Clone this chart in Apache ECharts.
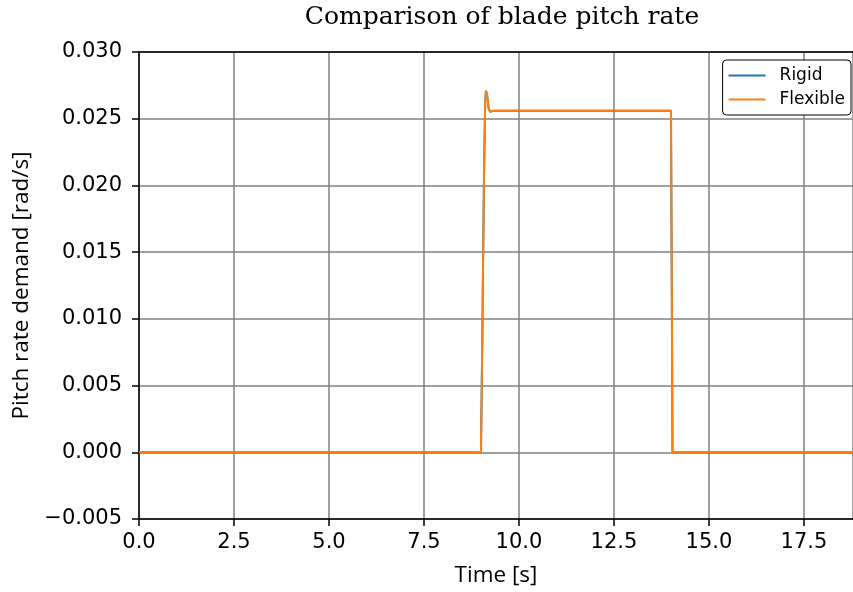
<!DOCTYPE html>
<html><head><meta charset="utf-8">
<script src="https://cdn.jsdelivr.net/npm/echarts@6/dist/echarts.min.js"></script>
<style>html,body{margin:0;padding:0;background:#fff}#c{width:853px;height:592px}</style>
</head><body><div id="c"></div>
<script>
const timeRigid = [0, 9.0, 9.04, 9.08, 9.11, 9.13, 9.16, 9.2, 9.24, 9.3, 9.4, 14.0, 14.02, 14.04, 18.79];
const rateRigid = [0, 0, 0.010, 0.021, 0.0262, 0.0271, 0.0268, 0.0258, 0.02552, 0.02558, 0.0256, 0.0256, 0.013, 0, 0];
const timeFlexible = [0, 9.0, 9.04, 9.08, 9.11, 9.13, 9.16, 9.2, 9.24, 9.3, 9.4, 14.0, 14.02, 14.04, 18.79];
const rateFlexible = [0, 0, 0.010, 0.021, 0.0262, 0.0271, 0.0268, 0.0258, 0.02552, 0.02558, 0.0256, 0.0256, 0.013, 0, 0];
const seriesNames = ['Rigid', 'Flexible'];
const titleText = 'Comparison of blade pitch rate';
const xLabel = 'Time [s]';
const yLabel = 'Pitch rate demand [rad/s]';

const pair = (xs, ys) => xs.map((x, i) => [x, ys[i]]);
const chart = echarts.init(document.getElementById('c'), null, {renderer: 'canvas'});
const font = 'DejaVu Sans';
const labelFont = 'Open Sans';
chart.setOption({
  animation: false,
  backgroundColor: '#fff',
  title: {text: titleText, left: 497, top: 0, textAlign: 'center',
    textStyle: {fontFamily: 'DejaVu Serif', fontWeight: 'normal', fontSize: 25, color: '#000'}},
  grid: {left: 139, top: 52, right: 0, bottom: 69, containLabel: false},
  legend: {
    data: seriesNames, orient: 'vertical', right: 2, top: 60,
    icon: 'rect', itemWidth: 37, itemHeight: 2, itemGap: 5,
    padding: [6, 6, 6, 6], borderColor: '#000', borderWidth: 1, borderRadius: 4,
    backgroundColor: '#fff',
    textStyle: {fontFamily: font, fontSize: 17, lineHeight: 19, color: '#000', padding: [0, 0, 0, 9]}
  },
  xAxis: [{
    type: 'value', min: 0, max: 18.79, interval: 2.5,
    name: xLabel, nameLocation: 'middle', nameGap: 45,
    nameTextStyle: {fontFamily: labelFont, fontSize: 22.5, color: '#000'},
    axisLine: {show: true, onZero: false, lineStyle: {color: '#000', width: 1.5}},
    axisTick: {show: true, inside: false, length: 7, lineStyle: {color: '#000', width: 1.5}},
    axisLabel: {fontFamily: font, fontSize: 21, color: '#000', margin: 13, showMaxLabel: false,
      formatter: v => v.toFixed(1)},
    splitLine: {show: true, lineStyle: {color: '#808080', width: 1.5}}
  }, {
    type: 'value', position: 'top', min: 0, max: 18.79,
    axisLine: {show: true, onZero: false, lineStyle: {color: '#000', width: 1.5}},
    axisTick: {show: false}, axisLabel: {show: false}, splitLine: {show: false}
  }],
  yAxis: {
    type: 'value', min: -0.005, max: 0.030, interval: 0.005,
    name: yLabel, nameLocation: 'middle', nameGap: 103, nameRotate: 90,
    nameTextStyle: {fontFamily: labelFont, fontSize: 22.5, color: '#000'},
    axisLine: {show: true, onZero: false, lineStyle: {color: '#000', width: 1.5}},
    axisTick: {show: true, inside: false, length: 7, lineStyle: {color: '#000', width: 1.5}},
    axisLabel: {fontFamily: font, fontSize: 21, color: '#000', margin: 17,
      formatter: v => { const s = (Math.round(v * 1000) / 1000).toFixed(3); return s.replace('-', '\u2212'); }},
    splitLine: {show: true, lineStyle: {color: '#808080', width: 1.5}}
  },
  series: [
    {name: seriesNames[0], type: 'line', data: pair(timeRigid, rateRigid), showSymbol: false, symbol: 'none',
      lineStyle: {color: '#1f77b4', width: 2}, itemStyle: {color: '#1f77b4'}},
    {name: seriesNames[1], type: 'line', data: pair(timeFlexible, rateFlexible), showSymbol: false, symbol: 'none',
      lineStyle: {color: '#ff7f0e', width: 2}, itemStyle: {color: '#ff7f0e'}}
  ]
});
</script></body></html>
